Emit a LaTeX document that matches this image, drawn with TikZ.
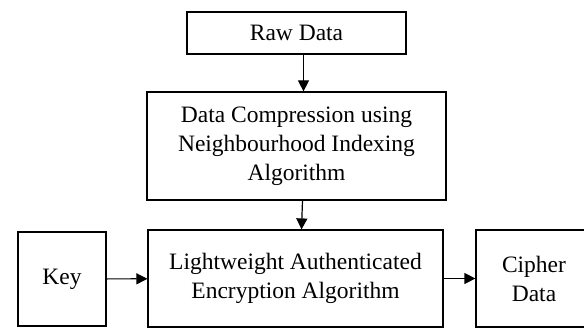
\documentclass[tikz,border=0pt]{standalone}
\usepackage{fontspec}
\setmainfont{Liberation Serif}
\usetikzlibrary{arrows.meta}

\tikzset{
  block/.style={draw, line width=1.2pt, align=center, inner sep=0pt,
    font=\fontsize{23.5}{29}\selectfont},
  flow/.style={-{Triangle[length=11pt,width=11pt]}, line width=1.2pt},
}

\begin{document}
\begin{tikzpicture}[x=1pt, y=-1pt]
  \useasboundingbox (0,0) rectangle (584,328);
  % Blocks
  \node[block, minimum width=219pt, minimum height=42pt] (raw) at (296.5,33) {Raw Data};
  \node[block, minimum width=299pt, minimum height=108pt] (comp) at (296.5,146)
    {Data Compression using\\Neighbourhood Indexing\\Algorithm};
  \node[block, minimum width=295pt, minimum height=97pt] (enc) at (295.5,278.5)
    {Lightweight Authenticated\\Encryption Algorithm};
  \node[block, minimum width=88pt, minimum height=94pt] (key) at (62,279) {Key};
  \node[block, minimum width=116pt, minimum height=97pt] (cipher) at (534,278.5) {Cipher\\Data};
  % Arrows
  \draw[flow] ([xshift=7pt]raw.south) -- ([xshift=7pt]comp.north);
  \draw[flow] ([xshift=6pt]comp.south) -- ([xshift=6pt]enc.north);
  \draw[flow] (key) -- (enc);
  \draw[flow] (enc) -- (cipher);
\end{tikzpicture}
\end{document}
